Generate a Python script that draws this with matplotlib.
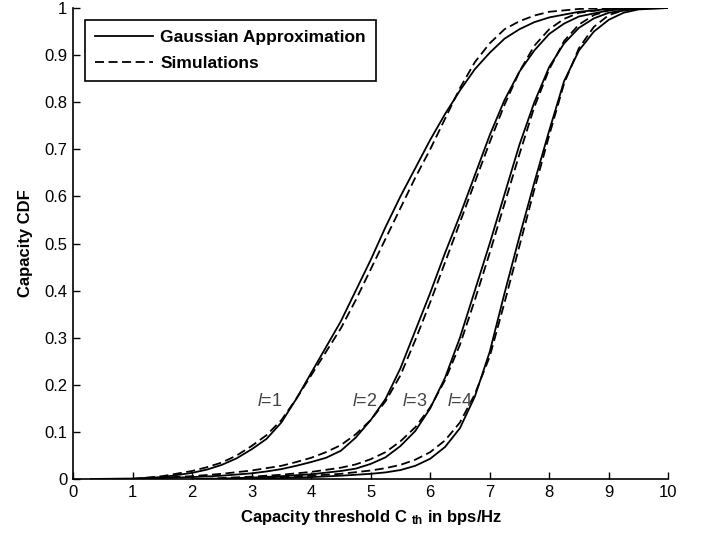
import matplotlib
matplotlib.use('Agg')
from matplotlib import pyplot as plt

plt.rcParams['font.family'] = ['Liberation Sans', 'DejaVu Sans']
plt.rcParams['mathtext.fontset'] = 'custom'
plt.rcParams['mathtext.rm'] = 'Liberation Sans'
plt.rcParams['mathtext.it'] = 'Liberation Sans:italic'
plt.rcParams['mathtext.bf'] = 'Liberation Sans:bold'

# l = 1
x_g1 = [0.3, 1.0, 1.5, 2.0, 2.25, 2.5, 2.75, 3.0, 3.25, 3.5, 3.75, 4.0, 4.25, 4.5, 4.75, 5.0, 5.25, 5.5, 5.75,
        6.0, 6.25, 6.5, 6.75, 7.0, 7.25, 7.5, 7.75, 8.0, 8.5, 9.0, 9.5, 10.0]
y_g1 = [0.0, 0.001, 0.004, 0.013, 0.02, 0.03, 0.044, 0.063, 0.085, 0.12, 0.17, 0.225, 0.28, 0.335, 0.40, 0.465,
        0.535, 0.60, 0.66, 0.72, 0.775, 0.825, 0.87, 0.905, 0.935, 0.955, 0.97, 0.98, 0.992, 0.998, 1.0, 1.0]
x_s1 = [1.0, 1.5, 2.0, 2.25, 2.5, 2.75, 3.0, 3.25, 3.5, 3.75, 4.0, 4.25, 4.5, 4.75, 5.0, 5.25, 5.5, 5.75,
        6.0, 6.25, 6.5, 6.75, 7.0, 7.25, 7.5, 7.75, 8.0, 8.5, 9.0]
y_s1 = [0.0, 0.006, 0.017, 0.025, 0.035, 0.05, 0.07, 0.093, 0.125, 0.17, 0.22, 0.27, 0.32, 0.38, 0.445, 0.51,
        0.575, 0.64, 0.70, 0.765, 0.83, 0.885, 0.925, 0.955, 0.972, 0.984, 0.992, 0.998, 1.0]

# l = 2
x_g2 = [1.0, 1.5, 2.0, 2.5, 3.0, 3.25, 3.5, 3.75, 4.0, 4.25, 4.5, 4.75, 5.0, 5.25, 5.5, 5.75, 6.0, 6.25, 6.5,
        6.75, 7.0, 7.25, 7.5, 7.75, 8.0, 8.25, 8.5, 9.0, 9.5, 10.0]
y_g2 = [0.0, 0.002, 0.004, 0.007, 0.012, 0.016, 0.021, 0.028, 0.036, 0.045, 0.06, 0.088, 0.125, 0.17, 0.235,
        0.315, 0.395, 0.48, 0.56, 0.645, 0.73, 0.805, 0.865, 0.91, 0.945, 0.967, 0.982, 0.995, 1.0, 1.0]
x_s2 = [1.2, 1.5, 2.0, 2.5, 3.0, 3.5, 3.75, 4.0, 4.25, 4.5, 4.75, 5.0, 5.25, 5.5, 5.75, 6.0, 6.25, 6.5, 6.75,
        7.0, 7.25, 7.5, 7.75, 8.0, 8.25, 8.5, 9.0, 9.5]
y_s2 = [0.0, 0.003, 0.006, 0.011, 0.018, 0.028, 0.036, 0.045, 0.057, 0.072, 0.095, 0.125, 0.165, 0.22, 0.295,
        0.375, 0.46, 0.545, 0.63, 0.715, 0.795, 0.865, 0.92, 0.955, 0.977, 0.99, 0.998, 1.0]

# l = 3
x_g3 = [2.0, 2.5, 3.0, 3.5, 4.0, 4.5, 4.75, 5.0, 5.25, 5.5, 5.75, 6.0, 6.25, 6.5, 6.75, 7.0, 7.25, 7.5, 7.75,
        8.0, 8.25, 8.5, 8.75, 9.0, 9.5, 10.0]
y_g3 = [0.0, 0.001, 0.003, 0.006, 0.01, 0.017, 0.022, 0.032, 0.046, 0.07, 0.102, 0.15, 0.215, 0.30, 0.40, 0.50,
        0.605, 0.71, 0.80, 0.875, 0.925, 0.958, 0.978, 0.99, 0.999, 1.0]
x_s3 = [2.2, 2.5, 3.0, 3.5, 4.0, 4.5, 4.75, 5.0, 5.25, 5.5, 5.75, 6.0, 6.25, 6.5, 6.75, 7.0, 7.25, 7.5, 7.75,
        8.0, 8.25, 8.5, 8.75, 9.0, 9.5]
y_s3 = [0.0, 0.002, 0.005, 0.009, 0.015, 0.024, 0.031, 0.042, 0.057, 0.08, 0.11, 0.152, 0.21, 0.285, 0.38, 0.48,
        0.585, 0.69, 0.79, 0.87, 0.93, 0.965, 0.985, 0.995, 1.0]

# l = 4
x_g4 = [2.5, 3.0, 3.5, 4.0, 4.5, 5.0, 5.25, 5.5, 5.75, 6.0, 6.25, 6.5, 6.75, 7.0, 7.25, 7.5, 7.75, 8.0, 8.25,
        8.5, 8.75, 9.0, 9.25, 9.5, 10.0]
y_g4 = [0.0, 0.001, 0.002, 0.004, 0.007, 0.011, 0.014, 0.019, 0.028, 0.043, 0.068, 0.108, 0.175, 0.27, 0.395,
        0.515, 0.63, 0.74, 0.845, 0.91, 0.95, 0.975, 0.99, 0.997, 1.0]
x_s4 = [2.8, 3.0, 3.5, 4.0, 4.5, 5.0, 5.25, 5.5, 5.75, 6.0, 6.25, 6.5, 6.75, 7.0, 7.25, 7.5, 7.75, 8.0, 8.25,
        8.5, 8.75, 9.0, 9.25, 9.5]
y_s4 = [0.0, 0.002, 0.004, 0.007, 0.011, 0.018, 0.023, 0.03, 0.041, 0.057, 0.082, 0.12, 0.18, 0.26, 0.375,
        0.495, 0.615, 0.73, 0.84, 0.915, 0.96, 0.985, 0.995, 1.0]

curve_labels = ['1', '2', '3', '4']
label_x = [3.3, 4.9, 5.75, 6.5]
label_y = 0.165

fig = plt.figure(figsize=(7.02, 5.34), dpi=100)
ax = fig.add_axes([0.104, 0.103, 0.848, 0.882])

gauss = [(x_g1, y_g1), (x_g2, y_g2), (x_g3, y_g3), (x_g4, y_g4)]
sims = [(x_s1, y_s1), (x_s2, y_s2), (x_s3, y_s3), (x_s4, y_s4)]
for i, (gx, gy) in enumerate(gauss):
    ax.plot(gx, gy, color='black', lw=1.3, ls='-',
            label='Gaussian Approximation' if i == 0 else None)
for i, (sx, sy) in enumerate(sims):
    ax.plot(sx, sy, color='black', lw=1.3, ls=(0, (5, 2.5)),
            label='Simulations' if i == 0 else None)

for lab, lx in zip(curve_labels, label_x):
    ax.text(lx, label_y, r'$\mathit{l}$=' + lab, fontsize=13, color='#444444',
            ha='center', va='center')

ax.set_xlim(0, 10)
ax.set_ylim(0, 1)
ax.set_xticks(range(0, 11))
ax.set_yticks([i / 10 for i in range(11)])
ax.set_yticklabels(['0', '0.1', '0.2', '0.3', '0.4', '0.5', '0.6', '0.7', '0.8', '0.9', '1'])
ax.tick_params(direction='in', length=5, width=1, labelsize=12, pad=4)
ax.spines['top'].set_visible(False)
ax.spines['right'].set_visible(False)
ax.spines['left'].set_linewidth(1.2)
ax.spines['bottom'].set_linewidth(1.2)

ax.set_xlabel(r'Capacity threshold C $_{\mathbf{th}}$ in bps/Hz', fontsize=12, fontweight='bold', labelpad=6)
ax.set_ylabel('Capacity CDF', fontsize=12, fontweight='bold', labelpad=8)

leg = ax.legend(loc='upper left', bbox_to_anchor=(0.02, 0.975), borderaxespad=0, fancybox=False,
                edgecolor='black', framealpha=1, handlelength=3.3, handletextpad=0.45,
                prop={'weight': 'bold', 'size': 12.5}, borderpad=0.6, labelspacing=0.6)
leg.get_frame().set_linewidth(1.2)

fig.savefig('out.png', dpi=100)
